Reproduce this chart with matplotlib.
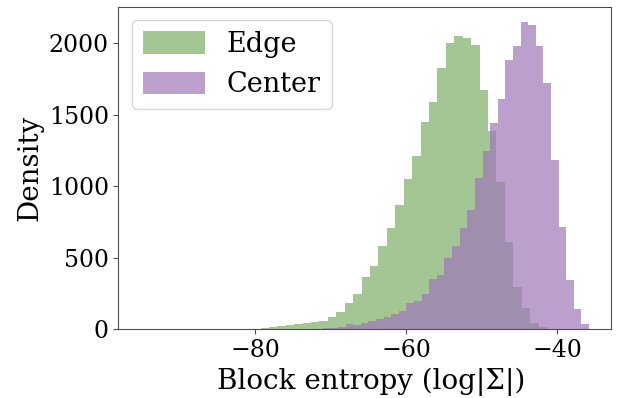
import numpy as np
import matplotlib
matplotlib.use('Agg')
import matplotlib.pyplot as plt

### DATA ###
# bin ranges (block entropy) and counts per bin
edge_range = (-97.1, -41.37)
edge_counts = [
	0, 0, 0, 0, 0, 0, 0, 0, 0, 0,
	0, 1, 1, 2, 3, 5, 9, 16, 22, 29,
	35, 42, 53, 58, 84, 119, 182, 247, 368, 445,
	583, 707, 869, 1049, 1212, 1450, 1587, 1825, 2000, 2049,
	2035, 1988, 1673, 1387, 1032, 608, 298, 147, 42, 18,
]
center_range = (-96.2, -35.81)
center_counts = [
	0, 0, 0, 0, 0, 0, 0, 0, 0, 0,
	0, 0, 0, 0, 0, 0, 0, 0, 0, 0,
	1, 2, 3, 4, 5, 6, 8, 14, 37, 30,
	42, 60, 72, 84, 107, 128, 186, 200, 245, 354,
	380, 501, 583, 711, 834, 1060, 1242, 1440, 1608, 1883,
	1981, 2147, 2123, 1976, 1720, 1184, 713, 345, 142, 37,
]
labels = ['Edge', 'Center']
farben = ['#7eaf69', '#9e77b9']

### HAUPT ###
plt.rcParams['font.family'] = 'DejaVu Serif'
plt.rcParams['font.size'] = 17

fig = plt.figure(figsize=(6.21, 3.98), dpi=100)
ax = fig.add_axes([0.1908, 0.1726, 0.7932, 0.811])

series = [(edge_range, edge_counts), (center_range, center_counts)]
for i, (rng, counts) in enumerate(series):
	bins = np.linspace(rng[0], rng[1], len(counts) + 1)
	centers = (bins[:-1] + bins[1:]) / 2
	ax.hist(centers, bins=bins, weights=counts,
		color=farben[i], alpha=0.7, label=labels[i])

ax.set_xlim(-98.05, -32.9)
ax.set_xticks([-80, -60, -40])
ax.set_yticks([0, 500, 1000, 1500, 2000])
ax.set_xlabel('Block entropy (log|Σ|)', fontsize=20, x=0.514)
ax.set_ylabel('Density', fontsize=20)
for s in ax.spines.values():
	s.set_color('0.3')
ax.tick_params(color='0.3')
ax.legend(loc='upper left', fontsize=19.5, handlelength=2.3, handleheight=0.9)

### AUSGABE ###
fig.savefig('out.png', dpi=100)
